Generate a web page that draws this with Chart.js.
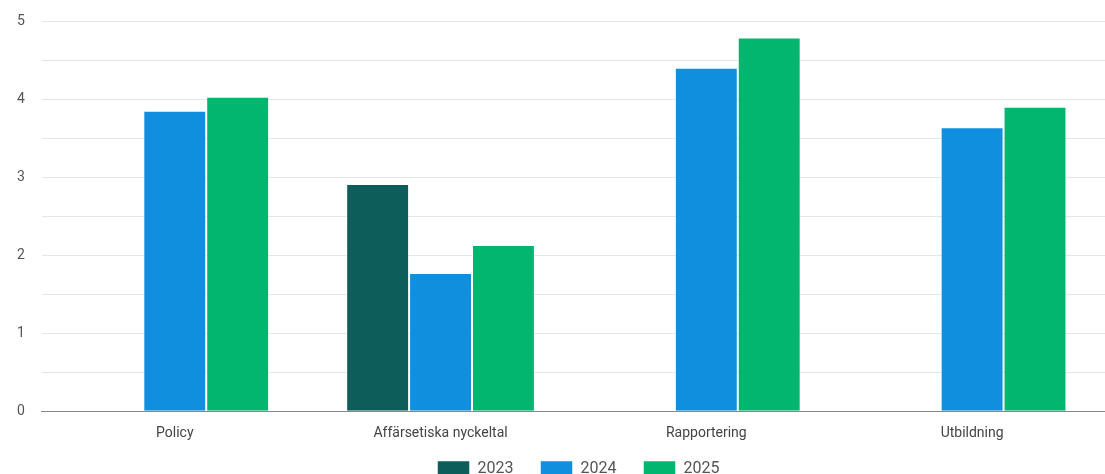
<!DOCTYPE html>
<html>
<head>
<meta charset="utf-8">
<script src="https://cdn.jsdelivr.net/npm/chart.js@4"></script>
<style>
  html, body { margin: 0; padding: 0; background: #fff; overflow: hidden; }
  #wrap { width: 1105px; height: 474px; }
</style>
</head>
<body>
<div id="wrap"><canvas id="bar-chart"></canvas></div>
<script>
// categories and series
var categories = ["Policy", "Affärsetiska nyckeltal", "Rapportering", "Utbildning"];
var years = ["2023", "2024", "2025"];
var values2023 = [0, 2.91, 0, 0];
var values2024 = [3.85, 1.77, 4.40, 3.64];
var values2025 = [4.03, 2.13, 4.79, 3.90];
var colors = ["#0d5d5b", "#0f8fdd", "#03b66f"];

// legend sits low, partly cut by the bottom edge, centred under the plot area
var legendFit = {
  id: "legendFit",
  beforeLayout: function (chart) {
    var lg = chart.legend;
    if (lg && !lg._patched) {
      var fit = lg.fit;
      lg.fit = function () { fit.call(this); this.height = 33; };
      lg._patched = true;
    }
  },
  afterLayout: function (chart) {
    var lg = chart.legend;
    if (lg) {
      lg.top -= 7;
      lg.left += 26;
      lg.right += 26;
    }
  }
};

new Chart("bar-chart", {
  type: "bar",
  data: {
    labels: categories,
    datasets: [
      { label: years[0], data: values2023, backgroundColor: colors[0] },
      { label: years[1], data: values2024, backgroundColor: colors[1] },
      { label: years[2], data: values2025, backgroundColor: colors[2] }
    ].map(function (d) {
      d.borderColor = "rgba(255,255,255,0.5)";
      d.borderWidth = 1;
      d.barPercentage = 1;
      d.categoryPercentage = 0.71;
      return d;
    })
  },
  plugins: [legendFit],
  options: {
    responsive: true,
    maintainAspectRatio: false,
    animation: false,
    layout: { padding: { top: 0, left: 0, right: 0, bottom: 0 } },
    plugins: {
      legend: {
        position: "bottom",
        labels: {
          boxWidth: 32, boxHeight: 16, padding: 27,
          color: "#555", font: { family: "Roboto", size: 16 }
        }
      },
      tooltip: { enabled: false }
    },
    scales: {
      x: {
        grid: { display: false, drawTicks: false },
        border: { color: "#888", width: 1 },
        ticks: { color: "#444", font: { family: "Roboto", size: 14 }, padding: 14 },
        afterFit: function (s) { s.height -= 15; }
      },
      y: {
        min: 0, max: 5,
        border: { display: false },
        grid: {
          color: function (ctx) { return ctx.tick && ctx.tick.value === 0 ? "#888" : "#e6e6e6"; },
          drawTicks: false
        },
        ticks: {
          stepSize: 0.5, padding: 17,
          color: "#555", font: { family: "Roboto", size: 14 },
          callback: function (v) { return Number.isInteger(v) ? v : ""; }
        },
        afterFit: function (s) { s.paddingTop = 21; }
      }
    }
  }
});
</script>
</body>
</html>
